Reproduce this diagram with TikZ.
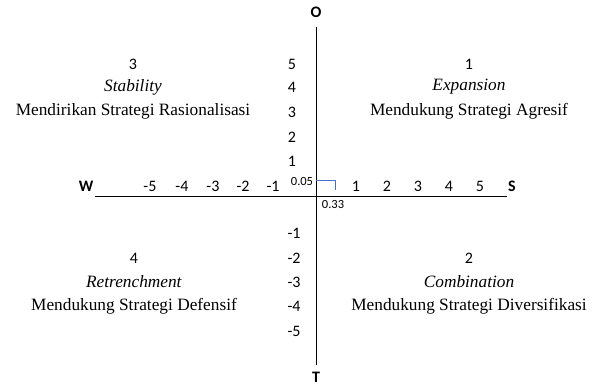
\documentclass[tikz,border=0pt]{standalone}
\usepackage{fontspec}
\setmainfont{Liberation Serif}
\newfontfamily\numfont{Carlito}
\definecolor{markblue}{RGB}{68,114,196}
\tikzset{
  num/.style={font=\numfont\fontsize{16}{18}\selectfont},
  axislabel/.style={font=\numfont\bfseries\fontsize{16}{18}\selectfont},
  tiny/.style={font=\numfont\fontsize{12.5}{14}\selectfont},
  quad/.style={font=\fontsize{17.3}{19}\selectfont}
}
\begin{document}
\begin{tikzpicture}[x=1pt,y=-1pt]
\useasboundingbox (0,0) rectangle (596,385);
\coordinate (top) at (316,27);
\coordinate (bottom) at (316,365);
\coordinate (left) at (95,196);
\coordinate (right) at (507,196);
\draw[line width=1pt] (top) -- (bottom);
\draw[line width=1pt] (left) -- (right);
\coordinate (mark) at (335,190);
\draw[markblue,line width=0.7pt] (316,180) -| (mark);
\node[axislabel] (o) at (316,12) {O};
\node[axislabel] (t) at (316,377) {T};
\node[axislabel] (w) at (86,186) {W};
\node[axislabel] (s) at (512,186) {S};
\node[num] at (150,186) {-5};
\node[num] at (182,186) {-4};
\node[num] at (213,186) {-3};
\node[num] at (243,186) {-2};
\node[num] at (273,186) {-1};
\node[num] at (356,186) {1};
\node[num] at (387,186) {2};
\node[num] at (418,186) {3};
\node[num] at (449,186) {4};
\node[num] at (480,186) {5};
\node[num] at (292,64) {5};
\node[num] at (292,87) {4};
\node[num] at (292,112) {3};
\node[num] at (292,137) {2};
\node[num] at (292,161) {1};
\node[num] at (294,233) {-1};
\node[num] at (294,258) {-2};
\node[num] at (294,282) {-3};
\node[num] at (294,306) {-4};
\node[num] at (294,331) {-5};
\node[tiny] (xval) at (302,181) {0.05};
\node[tiny] (yval) at (333,204) {0.33};
% quadrant 3
\node[num] at (133,64) {3};
\node[quad] at (133,87) {\textit{Stability}};
\node[quad] at (133,111) {Mendirikan Strategi Rasionalisasi};
% quadrant 1
\node[num] at (469,64) {1};
\node[quad] at (469,87) {\textit{Expansion}};
\node[quad] at (469,111) {Mendukung Strategi Agresif};
% quadrant 4
\node[num] at (134,258) {4};
\node[quad] at (134,282) {\textit{Retrenchment}};
\node[quad] at (134,306) {Mendukung Strategi Defensif};
% quadrant 2
\node[num] at (469,258) {2};
\node[quad] at (469,282) {\textit{Combination}};
\node[quad] at (469,306) {Mendukung Strategi Diversifikasi};
\end{tikzpicture}
\end{document}
